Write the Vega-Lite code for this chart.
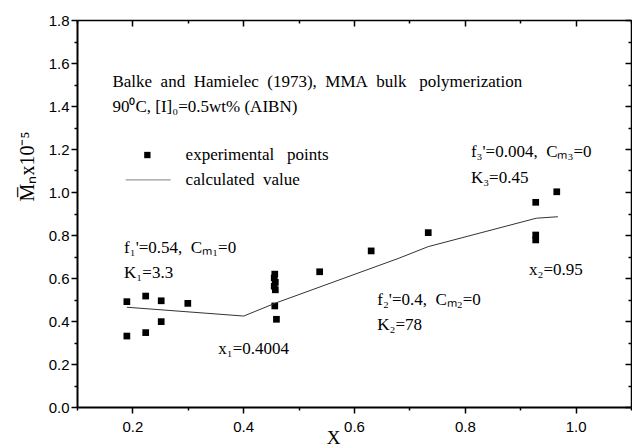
{
  "$schema": "https://vega.github.io/schema/vega-lite/v6.json",
  "width": 554,
  "height": 387,
  "autosize": {"type": "none"},
  "padding": {"left": 77, "top": 20, "right": 1, "bottom": 39},
  "config": {"view": {"stroke": null}, "font": "Liberation Serif"},
  "datasets": {
    "exp": [
      {"x": 0.19, "y": 0.49}, {"x": 0.224, "y": 0.516}, {"x": 0.252, "y": 0.494}, {"x": 0.30, "y": 0.482},
      {"x": 0.252, "y": 0.397}, {"x": 0.19, "y": 0.33}, {"x": 0.224, "y": 0.346},
      {"x": 0.457, "y": 0.618}, {"x": 0.456, "y": 0.6}, {"x": 0.458, "y": 0.58}, {"x": 0.456, "y": 0.562},
      {"x": 0.458, "y": 0.545}, {"x": 0.457, "y": 0.47}, {"x": 0.46, "y": 0.408},
      {"x": 0.538, "y": 0.629}, {"x": 0.631, "y": 0.726}, {"x": 0.734, "y": 0.811},
      {"x": 0.928, "y": 0.952}, {"x": 0.966, "y": 1.001}, {"x": 0.928, "y": 0.8}, {"x": 0.928, "y": 0.777}
    ],
    "calc": [
      {"x": 0.19, "y": 0.464}, {"x": 0.401, "y": 0.423}, {"x": 0.457, "y": 0.482}, {"x": 0.681, "y": 0.692},
      {"x": 0.734, "y": 0.746}, {"x": 0.929, "y": 0.878}, {"x": 0.968, "y": 0.885}
    ],
    "legpt": [{"x": 0.227, "y": 1.172}],
    "legline": [{"x": 0.188, "y": 1.056}, {"x": 0.269, "y": 1.056}],
    "notes": [
      {"x": 0.164, "y": 1.513, "t": "Balke\u00a0 and\u00a0 Hamielec\u00a0 (1973),\u00a0 MMA\u00a0 bulk\u00a0\u00a0 polymerization"},
      {"x": 0.164, "y": 1.397, "t": "90⁰C, [I]₀=0.5wt% (AIBN)"},
      {"x": 0.296, "y": 1.172, "t": "experimental\u00a0\u00a0 points"},
      {"x": 0.296, "y": 1.056, "t": "calculated\u00a0 value"},
      {"x": 0.811, "y": 1.186, "t": "f₃'=0.004,\u00a0 Cₘ₃=0"},
      {"x": 0.811, "y": 1.065, "t": "K₃=0.45"},
      {"x": 0.185, "y": 0.738, "t": "f₁'=0.54,\u00a0 Cₘ₁=0"},
      {"x": 0.185, "y": 0.622, "t": "K₁=3.3"},
      {"x": 0.355, "y": 0.268, "t": "x₁=0.4004"},
      {"x": 0.642, "y": 0.498, "t": "f₂'=0.4,\u00a0 Cₘ₂=0"},
      {"x": 0.642, "y": 0.381, "t": "K₂=78"},
      {"x": 0.916, "y": 0.637, "t": "x₂=0.95"}
    ]
  },
  "layer": [
    {
      "data": {"name": "exp"},
      "mark": {"type": "point", "shape": "square", "filled": true, "color": "black", "size": 45, "opacity": 1},
      "encoding": {
        "x": {"field": "x", "type": "quantitative", "scale": {"domain": [0.1, 1.1], "nice": false, "zero": false},
          "axis": {"orient": "bottom", "values": [0.1, 0.2, 0.3, 0.4, 0.5, 0.6, 0.7, 0.8, 0.9, 1.0, 1.1],
            "labelExpr": "round(datum.value*10)%2==0 ? format(datum.value,'.1f') : ''",
            "tickSize": {"condition": {"test": "round(datum.value*10)%2==0", "value": 6}, "value": 3},
            "grid": false, "domainColor": "black", "domainWidth": 2, "tickColor": "black", "tickWidth": 1.5,
            "labelFont": "Liberation Sans", "labelFontSize": 15, "labelColor": "black", "labelPadding": 6,
            "labelFlush": false, "labelOverlap": false,
            "title": "X", "titleFont": "Liberation Serif", "titleFontSize": 19, "titleFontWeight": "normal", "titleColor": "black",
            "titleX": 256, "titleY": 21, "titleBaseline": "top"}},
        "y": {"field": "y", "type": "quantitative", "scale": {"domain": [0, 1.8], "nice": false},
          "axis": {"orient": "left", "values": [0, 0.1, 0.2, 0.3, 0.4, 0.5, 0.6, 0.7, 0.8, 0.9, 1.0, 1.1, 1.2, 1.3, 1.4, 1.5, 1.6, 1.7, 1.8],
            "labelExpr": "round(datum.value*10)%2==0 ? format(datum.value,'.1f') : ''",
            "tickSize": {"condition": {"test": "round(datum.value*10)%2==0", "value": 6}, "value": 3},
            "grid": false, "domainColor": "black", "domainWidth": 2, "tickColor": "black", "tickWidth": 1.5,
            "labelFont": "Liberation Sans", "labelFontSize": 15, "labelColor": "black", "labelPadding": 2,
            "labelFlush": false, "labelOverlap": false,
            "title": "M̅ₙx10⁻⁵", "titleFont": "Liberation Serif", "titleFontSize": 20, "titleFontWeight": "normal", "titleColor": "black",
            "titleAngle": -90, "titleX": -40, "titleY": 146, "titleAlign": "center", "titleBaseline": "bottom"}}
      }
    },
    {
      "data": {"name": "exp"},
      "mark": {"type": "point", "opacity": 0},
      "encoding": {
        "x": {"field": "x", "type": "quantitative",
          "axis": {"orient": "top", "values": [0.1, 0.2, 0.3, 0.4, 0.5, 0.6, 0.7, 0.8, 0.9, 1.0, 1.1], "labels": false, "title": null,
            "tickSize": {"condition": {"test": "round(datum.value*10)%2==0", "value": -6}, "value": -3},
            "grid": false, "domainColor": "black", "domainWidth": 1.5, "tickColor": "black", "tickWidth": 1.5}},
        "y": {"field": "y", "type": "quantitative",
          "axis": {"orient": "right", "values": [0, 0.1, 0.2, 0.3, 0.4, 0.5, 0.6, 0.7, 0.8, 0.9, 1.0, 1.1, 1.2, 1.3, 1.4, 1.5, 1.6, 1.7, 1.8], "labels": false, "title": null,
            "tickSize": {"condition": {"test": "round(datum.value*10)%2==0", "value": -6}, "value": -3},
            "grid": false, "domainColor": "black", "domainWidth": 1.5, "tickColor": "black", "tickWidth": 1.5}}
      }
    },
    {
      "data": {"name": "calc"},
      "mark": {"type": "line", "color": "#333333", "strokeWidth": 1},
      "encoding": {
        "x": {"field": "x", "type": "quantitative", "axis": null},
        "y": {"field": "y", "type": "quantitative", "axis": null}
      }
    },
    {
      "data": {"name": "legpt"},
      "mark": {"type": "point", "shape": "square", "filled": true, "color": "black", "size": 40, "opacity": 1},
      "encoding": {
        "x": {"field": "x", "type": "quantitative", "axis": null},
        "y": {"field": "y", "type": "quantitative", "axis": null}
      }
    },
    {
      "data": {"name": "legline"},
      "mark": {"type": "line", "color": "#999999", "strokeWidth": 1.2},
      "encoding": {
        "x": {"field": "x", "type": "quantitative", "axis": null},
        "y": {"field": "y", "type": "quantitative", "axis": null}
      }
    },
    {
      "data": {"name": "notes"},
      "mark": {"type": "text", "align": "left", "baseline": "middle", "font": "Liberation Serif", "fontSize": 17, "color": "black"},
      "encoding": {
        "x": {"field": "x", "type": "quantitative", "axis": null},
        "y": {"field": "y", "type": "quantitative", "axis": null},
        "text": {"field": "t"}
      }
    }
  ],
  "resolve": {"axis": {"x": "independent", "y": "independent"}}
}
